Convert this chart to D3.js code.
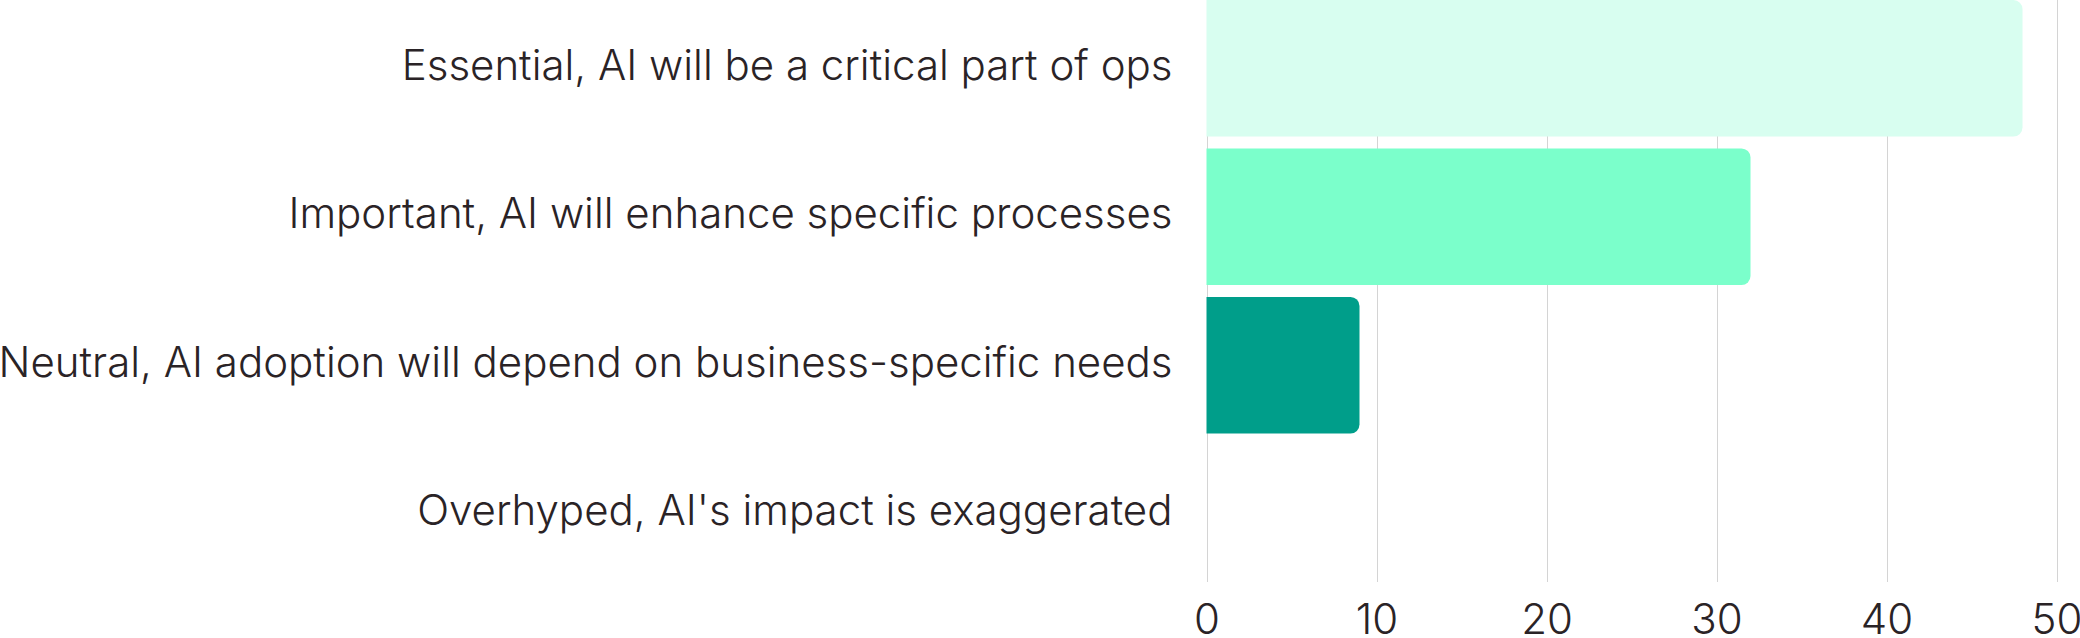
<!DOCTYPE html>
<html>
<head>
<meta charset="utf-8">
<script src="https://cdn.jsdelivr.net/npm/d3@7"></script>
<style>
  html, body { margin: 0; padding: 0; background: #ffffff; }
  svg { display: block; }
  text { font-family: Inter, "Noto Sans", sans-serif; }
</style>
</head>
<body>
<svg id="chart" width="2080" height="638"></svg>
<script>
const categories = [
  "Essential, AI will be a critical part of ops",
  "Important, AI will enhance specific processes",
  "Neutral, AI adoption will depend on business-specific needs",
  "Overhyped, AI's impact is exaggerated"
];
const values = [48, 32, 9, 0];
const barColors = ["#d8fef0", "#7bffcb", "#009e8a", "#009e8a"];
const tickValues = [0, 10, 20, 30, 40, 50];

const W = 2080, H = 638;
const margin = { left: 1206.5, right: 23.5, top: 0, bottom: 56 };
const svg = d3.select("#chart");

const x = d3.scaleLinear().domain([0, 50]).range([margin.left, W - margin.right]);
const y = d3.scaleBand().domain(categories).range([margin.top, H - margin.bottom])
  .paddingInner(0.08).paddingOuter(0);

const textColor = "#2a2326";
const fontSize = 42;
const fontWeight = 300;

// gridlines
svg.append("g").selectAll("line").data(tickValues).join("line")
  .attr("x1", d => Math.round(x(d)) + 0.5).attr("x2", d => Math.round(x(d)) + 0.5)
  .attr("y1", y.range()[0]).attr("y2", y.range()[1])
  .attr("stroke", "#d4d4d4").attr("stroke-width", 1);

// bars with right-side rounded corners
const r = 9;
function barPath(x0, y0, w, h) {
  if (w <= 0) return "";
  const rr = Math.min(r, w, h / 2);
  return `M${x0},${y0}H${x0 + w - rr}A${rr},${rr} 0 0 1 ${x0 + w},${y0 + rr}` +
         `V${y0 + h - rr}A${rr},${rr} 0 0 1 ${x0 + w - rr},${y0 + h}H${x0}Z`;
}
svg.append("g").selectAll("path").data(categories).join("path")
  .attr("d", (d, i) => barPath(x(0), y(d), x(values[i]) - x(0), y.bandwidth()))
  .attr("fill", (d, i) => barColors[i]);

// category labels
svg.append("g").selectAll("text").data(categories).join("text")
  .attr("x", x(0) - 34)
  .attr("y", d => y(d) + y.bandwidth() / 2)
  .attr("dy", "0.27em")
  .attr("text-anchor", "end")
  .attr("fill", textColor)
  .attr("font-size", fontSize)
  .attr("font-weight", fontWeight)
  .text(d => d);

// x axis tick labels
const xAxis = d3.axisBottom(x).tickValues(tickValues).tickSize(0).tickPadding(0);
const gx = svg.append("g").attr("transform", `translate(0,${y.range()[1]})`).call(xAxis);
gx.select(".domain").remove();
gx.selectAll("text")
  .attr("y", 52).attr("dy", 0)
  .attr("fill", textColor)
  .attr("font-size", fontSize)
  .attr("font-weight", fontWeight)
  .attr("font-family", "Inter, 'Noto Sans', sans-serif");
</script>
</body>
</html>
